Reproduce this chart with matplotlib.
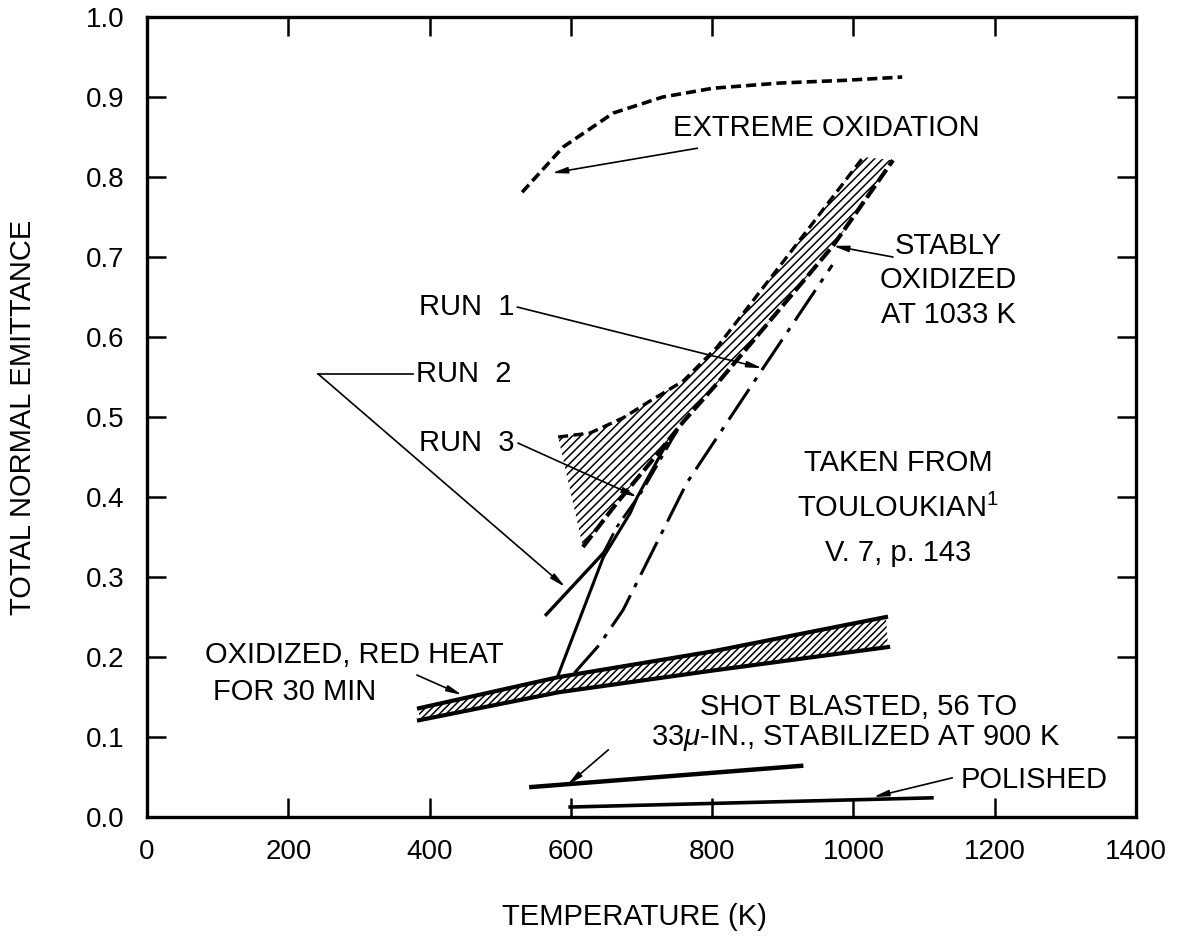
import numpy as np
import matplotlib
matplotlib.use("Agg")
import matplotlib.pyplot as plt

plt.rcParams["font.family"] = ["Liberation Sans", "DejaVu Sans"]
plt.rcParams["mathtext.fontset"] = "custom"
plt.rcParams["mathtext.rm"] = "Liberation Sans"
plt.rcParams["mathtext.it"] = "Liberation Sans:italic"
plt.rcParams["hatch.linewidth"] = 1.1

# extreme oxidation (dashed)
extreme_T = [531, 589, 660, 730, 801, 896, 991, 1069]
extreme_e = [0.781, 0.8375, 0.880, 0.900, 0.911, 0.9175, 0.921, 0.925]

# stably oxidized band: upper dashed curve and lower dashed line
stable_up_T = [582, 627, 674, 712, 759, 807, 910, 1014]
stable_up_e = [0.475, 0.480, 0.499, 0.520, 0.545, 0.5875, 0.705, 0.825]
stable_lo_T = [617, 665, 712, 759, 811, 971, 1056]
stable_lo_e = [0.3375, 0.3925, 0.4425, 0.494, 0.546, 0.714, 0.821]

# runs
run1_T = [605, 640, 674, 720, 764, 872, 970]
run1_e = [0.180, 0.215, 0.259, 0.340, 0.4175, 0.561, 0.690]
run2_T = [565, 646]
run2_e = [0.253, 0.330]
run2_tail_T = [646, 665, 702, 745, 759]
run2_tail_e = [0.330, 0.3625, 0.409, 0.475, 0.494]
run3_T = [582, 646, 684, 694, 736]
run3_e = [0.1775, 0.325, 0.380, 0.400, 0.4675]

# oxidized, red heat for 30 min (hatched band)
red_up_T = [385, 583, 800, 1046]
red_up_e = [0.136, 0.175, 0.207, 0.250]
red_lo_T = [385, 583, 800, 1049]
red_lo_e = [0.121, 0.156, 0.183, 0.2125]

# shot blasted and polished
shot_T = [544, 926]
shot_e = [0.0375, 0.064]
pol_T = [599, 1111]
pol_e = [0.0125, 0.024]

fig = plt.figure(figsize=(11.82, 9.36), dpi=100)
ax = fig.add_axes([0.1244, 0.1271, 0.8367, 0.8547])

ax.plot(extreme_T, extreme_e, color="black", lw=2.6, ls=(0, (2.8, 1.4)))

# hatched wedge between the two stably oxidized bounds
wx = np.concatenate([stable_up_T, stable_lo_T[::-1]])
wy = np.concatenate([stable_up_e, stable_lo_e[::-1]])
ax.fill(wx, wy, facecolor="none", edgecolor="black", lw=0, hatch="////")
ax.plot(stable_up_T, stable_up_e, color="black", lw=2.4, ls=(0, (3, 1.6)))
ax.plot(stable_lo_T, stable_lo_e, color="black", lw=3.0, ls=(0, (3.5, 1.2)))

ax.plot(run1_T, run1_e, color="black", lw=2.2, ls=(0, (12, 3, 1.5, 3)))
ax.plot(run2_T, run2_e, color="black", lw=2.4)
ax.plot(run2_tail_T, run2_tail_e, color="black", lw=2.0, ls=(0, (8, 2.5, 1.5, 2.5)))
ax.plot(run3_T, run3_e, color="black", lw=2.2)

rx = np.concatenate([red_up_T, red_lo_T[::-1]])
ry = np.concatenate([red_up_e, red_lo_e[::-1]])
ax.fill(rx, ry, facecolor="none", edgecolor="black", lw=0, hatch="/////")
ax.plot(red_up_T, red_up_e, color="black", lw=3.0)
ax.plot(red_lo_T, red_lo_e, color="black", lw=3.0)

ax.plot(shot_T, shot_e, color="black", lw=3.2)
ax.plot(pol_T, pol_e, color="black", lw=2.6)

# labels and leaders
fs = 21
arr = dict(arrowstyle="-|>,head_length=0.9,head_width=0.18", color="black",
           lw=1.2, shrinkA=0, shrinkB=0)


def leader(text_xy, tip_xy):
    ax.annotate("", xy=tip_xy, xytext=text_xy, arrowprops=arr)


ax.text(745, 0.861, "EXTREME OXIDATION", fontsize=fs, ha="left", va="center")
leader((779, 0.836), (573, 0.805))

ax.text(1134, 0.671, "STABLY\nOXIDIZED\nAT 1033 K", fontsize=fs, ha="center",
        va="center", linespacing=1.3)
leader((1056, 0.700), (971, 0.714))

ax.text(520, 0.6375, "RUN  1", fontsize=fs, ha="right", va="center")
leader((524, 0.6375), (871, 0.561))
ax.text(381, 0.554, "RUN  2", fontsize=fs, ha="left", va="center")
ax.plot([377, 242], [0.554, 0.554], color="black", lw=1.2)
leader((242, 0.554), (592, 0.2875))
ax.text(520, 0.4675, "RUN  3", fontsize=fs, ha="right", va="center")
leader((525, 0.4675), (694, 0.400))

ax.text(1063, 0.4425, "TAKEN FROM", fontsize=fs, ha="center", va="center")
ax.text(1063, 0.386, "TOULOUKIAN$^{1}$", fontsize=fs, ha="center", va="center")
ax.text(1063, 0.330, "V. 7, p. 143", fontsize=fs, ha="center", va="center")

ax.text(82, 0.2025, "OXIDIZED, RED HEAT", fontsize=fs, ha="left", va="center")
ax.text(93, 0.156, "FOR 30 MIN", fontsize=fs, ha="left", va="center")
leader((382, 0.1775), (446, 0.1525))

ax.text(1007, 0.1375, "SHOT BLASTED, 56 TO", fontsize=fs, ha="center", va="center")
ax.text(1003, 0.099, "33$\\mu$-IN., STABILIZED AT 900 K", fontsize=fs,
        ha="center", va="center")
leader((653, 0.084), (595, 0.040))

ax.text(1256, 0.046, "POLISHED", fontsize=fs, ha="center", va="center")
leader((1140, 0.049), (1028, 0.025))

ax.set_xlim(0, 1400)
ax.set_ylim(0, 1.0)
ax.set_xticks(np.arange(0, 1401, 200))
ax.set_yticks(np.arange(0, 1.01, 0.1))
ax.set_yticklabels([f"{v:.1f}" for v in np.arange(0, 1.01, 0.1)])
ax.tick_params(direction="in", length=14, width=1.8, labelsize=20, pad=16,
               top=True, right=True)
for s in ax.spines.values():
    s.set_linewidth(2.4)

ax.set_xlabel("TEMPERATURE (K)", fontsize=21, va="center")
ax.set_ylabel("TOTAL NORMAL EMITTANCE", fontsize=21, va="center")
ax.xaxis.set_label_coords(0.493, -0.125)
ax.yaxis.set_label_coords(-0.125, 0.5)

fig.savefig("out.png", dpi=100)
